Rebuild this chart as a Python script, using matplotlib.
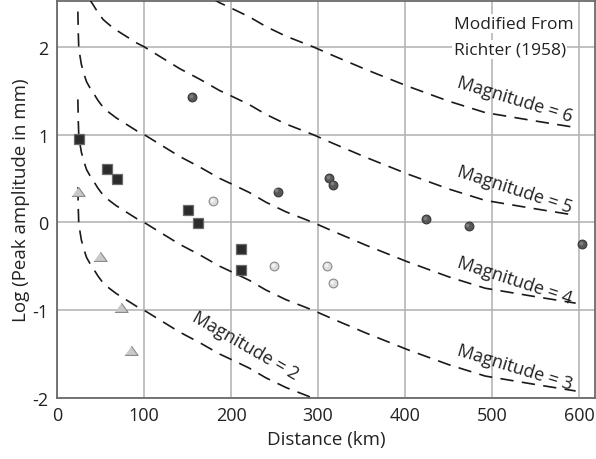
import matplotlib
matplotlib.use("Agg")
import matplotlib.pyplot as plt
import matplotlib.transforms as mtrans
import numpy as np

# attenuation curve (-log A0)
att_dist = [24, 24.5, 25, 26.5, 28, 31, 34, 38, 42, 47, 53, 60, 68, 76, 84, 92, 100,
            118, 141, 164, 187, 200, 221, 240, 263, 294, 317, 355, 403, 450, 492, 546, 596]
att_val = [1.6, 1.85, 2.0, 2.11, 2.2, 2.31, 2.4, 2.47, 2.53, 2.61, 2.69, 2.75, 2.81, 2.86, 2.91, 2.96, 3.0,
           3.11, 3.25, 3.37, 3.5, 3.56, 3.66, 3.77, 3.88, 4.0, 4.1, 4.26, 4.45, 4.62, 4.75, 4.84, 4.92]
magnitudes = [2, 3, 4, 5, 6]

# observations
sq_x = [25.5, 58, 69.5, 151, 162, 211.5, 211.5]
sq_y = [0.95, 0.61, 0.49, 0.14, -0.01, -0.30, -0.54]
tri_x = [24.4, 49.3, 73.5, 84.8]
tri_y = [0.35, -0.40, -0.98, -1.46]
lc_x = [179, 249.7, 310, 317]
lc_y = [0.24, -0.50, -0.50, -0.69]
dc_x = [155, 253.5, 312.7, 317.7, 424.6, 473, 603.7]
dc_y = [1.43, 0.35, 0.50, 0.43, 0.04, -0.045, -0.25]

plt.rcParams['font.family'] = ['Open Sans', 'DejaVu Sans']
plt.rcParams['axes.unicode_minus'] = False

fig = plt.figure(figsize=(5.96, 4.6), dpi=100)
ax = fig.add_axes([0.0956, 0.1326, 0.9024, 0.863])

att = np.array(att_val)
for m in magnitudes:
    ax.plot(att_dist, m - att, color='#1a1a1a', lw=1.2, dashes=(8, 5), zorder=3)

# magnitude labels
lab_pos = {6: (526, 1.41, -17), 5: (526, 0.38, -18), 4: (526, -0.66, -18),
           3: (526, -1.64, -17), 2: (216, -1.40, -30)}
for m in magnitudes:
    lx, ly, rot = lab_pos[m]
    ax.text(lx, ly, 'Magnitude = %d' % m, rotation=rot, ha='center', va='center',
            fontsize=13, color='#222222', rotation_mode='anchor', zorder=4)

hl = mtrans.offset_copy(ax.transData, fig=fig, x=-1.2, y=1.2, units='dots')

tri = [(-1, -0.6), (1, -0.6), (0, 0.8)]
ax.plot(tri_x, tri_y, ls='none', marker=tri, ms=9.5, mfc='#c9c9c9', mec='#8a8a8a', mew=0.8, zorder=5)
ax.plot(sq_x, sq_y, ls='none', marker='s', ms=7, mfc='#2c2c2c', mec='#6a6a6a', mew=0.9, zorder=5)
ax.plot(lc_x, lc_y, ls='none', marker='o', ms=6.3, mfc='#dcdcdc', mec='#8a8a8a', mew=0.8, zorder=5)
ax.plot(lc_x, lc_y, ls='none', marker='o', ms=2.8, mfc='#f2f2f2', mec='none', transform=hl, zorder=6)
ax.plot(dc_x, dc_y, ls='none', marker='o', ms=6.3, mfc='#585858', mec='#363636', mew=0.8, zorder=5)
ax.plot(dc_x, dc_y, ls='none', marker='o', ms=2.8, mfc='#7e7e7e', mec='none', transform=hl, zorder=6)

ax.text(456, 2.26, 'Modified From', ha='left', va='center', fontsize=12.5, color='#222222',
        bbox=dict(fc='white', ec='none', pad=1), zorder=4)
ax.text(456, 1.97, 'Richter (1958)', ha='left', va='center', fontsize=12.5, color='#222222',
        bbox=dict(fc='white', ec='none', pad=1), zorder=4)

ax.set_xlim(0, 618)
ax.set_ylim(-2, 2.52)
ax.set_xticks([0, 100, 200, 300, 400, 500, 600])
ax.set_yticks([-2, -1, 0, 1, 2])
ax.grid(True, color='#b0b0b0', lw=1.1)
ax.set_axisbelow(True)
ax.tick_params(length=0, labelsize=13, labelcolor='#222222', pad=6)
for s in ax.spines.values():
    s.set_color('#6a6a6a')
    s.set_linewidth(1.3)
ax.set_xlabel('Distance (km)', fontsize=13.5, color='#222222', labelpad=4)
ax.set_ylabel('Log (Peak amplitude in mm)', fontsize=13.5, color='#222222', labelpad=2)

fig.savefig('out.png', dpi=100)
